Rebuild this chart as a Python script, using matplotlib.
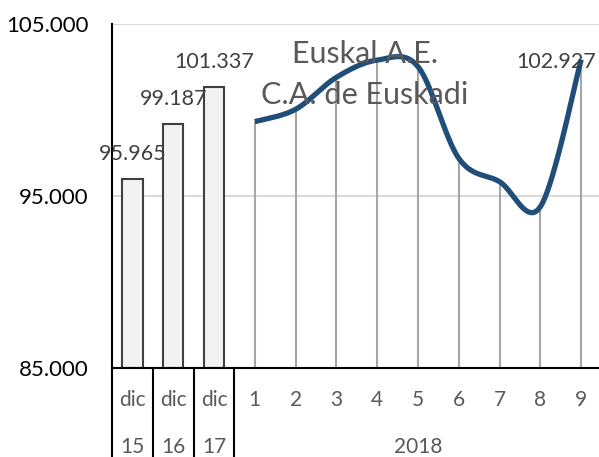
import numpy as np
import matplotlib
matplotlib.use("Agg")
import matplotlib.pyplot as plt

# datos
bar_labels_top = ["dic", "dic", "dic"]
bar_labels_bottom = ["15", "16", "17"]
bar_values = [95965, 99187, 101337]

month_labels = ["1", "2", "3", "4", "5", "6", "7", "8", "9"]
month_values = [99320, 100040, 101900, 102900, 102520, 97190, 95830, 94380, 102927]
year_label = "2018"

title_lines = ["Euskal A.E.", "C.A. de Euskadi"]


def fmt_es(v):
    return f"{v:,.0f}".replace(",", ".")


def smooth_curve(xs, ys, n=40):
    # curva suavizada tipo Excel (Catmull-Rom con bezier)
    xs = np.asarray(xs, float)
    ys = np.asarray(ys, float)
    px = np.concatenate([[xs[0]], xs, [xs[-1]]])
    py = np.concatenate([[ys[0]], ys, [ys[-1]]])
    outx, outy = [], []
    t = np.linspace(0, 1, n)
    for i in range(1, len(px) - 2):
        p0 = np.array([px[i], py[i]])
        p3 = np.array([px[i + 1], py[i + 1]])
        c1 = p0 + (np.array([px[i + 1], py[i + 1]]) - np.array([px[i - 1], py[i - 1]])) / 6
        c2 = p3 - (np.array([px[i + 2], py[i + 2]]) - np.array([px[i], py[i]])) / 6
        b = ((1 - t) ** 3)[:, None] * p0 + (3 * (1 - t) ** 2 * t)[:, None] * c1 \
            + (3 * (1 - t) * t ** 2)[:, None] * c2 + (t ** 3)[:, None] * p3
        outx.extend(b[:, 0])
        outy.extend(b[:, 1])
    return np.array(outx), np.array(outy)


plt.rcParams["font.family"] = ["Lato", "DejaVu Sans"]

W, H = 599, 457
fig = plt.figure(figsize=(W / 100, H / 100), dpi=100)
ax_left, ax_bottom, ax_w, ax_h = 112, 368, 489.6, 344
ax = fig.add_axes([ax_left / W, (H - ax_bottom) / H, ax_w / W, ax_h / H])

nb = len(bar_values)
xb = np.arange(nb)
xm = np.arange(nb, nb + len(month_values))

ymin, ymax = 85000, 105000
ax.set_xlim(-0.5, nb + len(month_values) - 0.5)
ax.set_ylim(ymin, ymax)

# rejilla
for g in [95000, 105000]:
    ax.axhline(g, color="#D9D9D9", lw=1.5, zorder=0)

# barras
ax.bar(xb, np.array(bar_values) - ymin, bottom=ymin, width=0.5,
       color="#F2F2F2", edgecolor="#404040", linewidth=1.5, zorder=2)
for x, v in zip(xb, bar_values):
    ax.annotate(fmt_es(v), (x, v), xytext=(0, 18), textcoords="offset points",
                ha="center", va="center", fontsize=15.5, color="#404040")

# lineas de caida
ax.vlines(xm, ymin, month_values, color="#A6A6A6", lw=1.5, zorder=2)

# linea suavizada
sx, sy = smooth_curve(xm, month_values)
ax.plot(sx, sy, color="#1F4E79", lw=3.8, solid_capstyle="butt", zorder=3)
ax.annotate(fmt_es(month_values[-1]), (xm[-1], month_values[-1]),
            xytext=(-18, -2), textcoords="offset points",
            ha="center", va="center", fontsize=15.5, color="#404040", zorder=4)

# titulo dentro del grafico
ax.text(5.7, 103.25e3, title_lines[0], ha="center", va="center",
        fontsize=22, color="#595959", zorder=5)
ax.text(5.7, 100.85e3, title_lines[1], ha="center", va="center",
        fontsize=22, color="#595959", zorder=5)

# ejes
ax.set_yticks([85000, 95000, 105000])
ax.set_yticklabels([fmt_es(v) for v in [85000, 95000, 105000]], fontsize=16)
ax.tick_params(axis="y", length=0, pad=17)
ax.set_xticks([])
for s in ["top", "right"]:
    ax.spines[s].set_visible(False)
ax.spines["left"].set_color("black")
ax.spines["left"].set_linewidth(1.5)
ax.spines["bottom"].set_color("black")
ax.spines["bottom"].set_linewidth(1.5)

# etiquetas de categorias (dos niveles)
trans = ax.get_xaxis_transform()
row1 = -32 / ax_h
row2 = -79 / ax_h
bottom_edge = -(H - ax_bottom) / ax_h
for x, a, b in zip(xb, bar_labels_top, bar_labels_bottom):
    ax.text(x, row1, a, transform=trans, ha="center", va="center",
            fontsize=15, color="#595959")
    ax.text(x, row2, b, transform=trans, ha="center", va="center",
            fontsize=15, color="#595959")
for x, m in zip(xm, month_labels):
    ax.text(x, row1, m, transform=trans, ha="center", va="center",
            fontsize=15, color="#595959")
ax.text(xm.mean(), row2, year_label, transform=trans, ha="center", va="center",
        fontsize=15, color="#595959")
for d in np.arange(-0.5, nb, 1.0):
    ax.plot([d, d], [0, bottom_edge], transform=trans, color="black",
            lw=1.5, clip_on=False)

fig.savefig("out.png", dpi=100)
